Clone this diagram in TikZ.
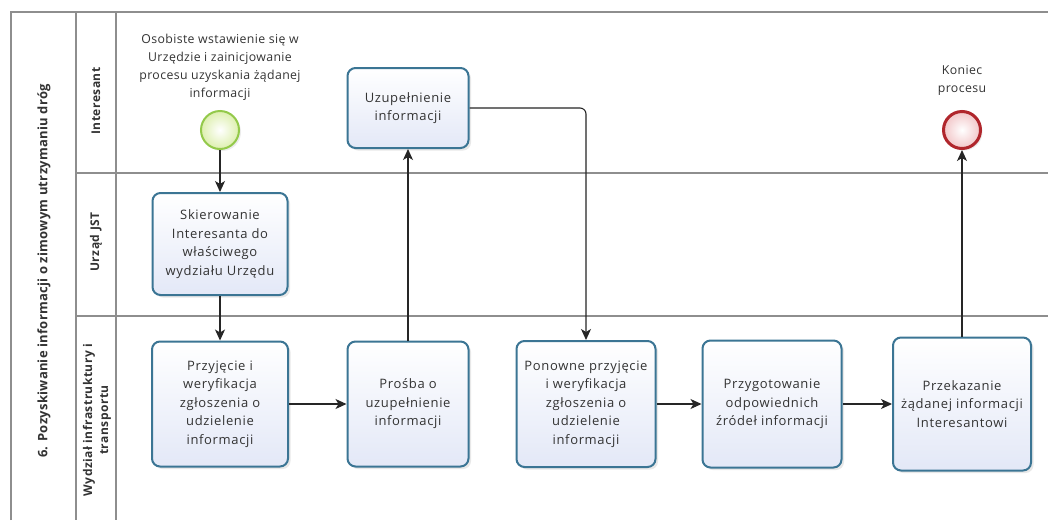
\documentclass[tikz,border=0pt]{standalone}
\usepackage{fontspec}
\setmainfont{Open Sans}
\usetikzlibrary{arrows.meta,shadows}
\definecolor{taskborder}{HTML}{3B7594}
\definecolor{taskfill}{HTML}{E3E8F7}
\definecolor{lanegray}{HTML}{8E8E8E}
\definecolor{startborder}{HTML}{93C94A}
\definecolor{startfill}{HTML}{DDEFAE}
\definecolor{endborder}{HTML}{B0262C}
\definecolor{endfill}{HTML}{F2C6C8}
\definecolor{txt}{HTML}{333333}
\tikzset{
  task/.style={draw=taskborder, line width=2pt, rounded corners=8pt,
    top color=white, bottom color=taskfill, align=center, text=txt,
    font=\fontsize{13}{18.5}\selectfont\addfontfeature{LetterSpace=5}, inner sep=0pt,
    drop shadow={opacity=0.18, shadow xshift=2.5pt, shadow yshift=-2.5pt}},
  startev/.style={circle, draw=startborder, line width=2pt, inner color=white,
    outer color=startfill, minimum size=38pt, inner sep=0pt,
    drop shadow={opacity=0.15, shadow xshift=2pt, shadow yshift=-2pt}},
  endev/.style={circle, draw=endborder, line width=3pt, inner color=white,
    outer color=endfill, minimum size=37pt, inner sep=0pt,
    drop shadow={opacity=0.15, shadow xshift=2pt, shadow yshift=-2pt}},
  evlabel/.style={align=center, text=txt, inner sep=0pt,
    font=\fontsize{12.3}{18}\selectfont\addfontfeature{LetterSpace=3}},
  lane/.style={draw=lanegray, line width=1.6pt},
  lanelabel/.style={rotate=90, align=center, text=txt,
    font=\bfseries\fontsize{12}{16}\selectfont\addfontfeature{LetterSpace=4}},
  flow/.style={draw=black!85, line width=1.1pt, -{Stealth[length=11pt,width=10pt,inset=3pt]}}
}
\begin{document}
\begin{tikzpicture}[x=1pt,y=-1pt]
\useasboundingbox[fill=white] (0,0) rectangle (1048,520);
% pool and lanes
\draw[lane] (11,520) -- (11,12) -- (1048,12);
\draw[lane] (76,12) -- (76,520);
\draw[lane] (116,12) -- (116,520);
\draw[lane] (76,173) -- (1048,173);
\draw[lane] (76,316) -- (1048,316);
\node[lanelabel, font=\bfseries\fontsize{13}{16}\selectfont\addfontfeature{LetterSpace=2}] (pooltitle) at (44,271) {6. Pozyskiwanie informacji o zimowym utrzymaniu dróg};
\node[lanelabel] (l1) at (96,101) {Interesant};
\node[lanelabel] (l2) at (96,242) {Urząd JST};
\node[lanelabel] (l3) at (97,420) {Wydział infrastruktury i\\transportu};
% events
\node[startev] (start) at (220,130) {};
\node[evlabel, anchor=south] (startlbl) at (220,101) {Osobiste wstawienie się w\\Urzędzie i zainicjowanie\\procesu uzyskania żądanej\\informacji};
\node[endev] (end) at (962,130) {};
\node[evlabel, anchor=south] (endlbl) at (962,96) {Koniec\\procesu};
% tasks
\node[task, minimum width=121pt, minimum height=80pt] (uzup) at (408,108) {Uzupełnienie\\informacji};
\node[task, minimum width=135pt, minimum height=102pt] (skier) at (220,244) {Skierowanie\\Interesanta do\\właściwego\\wydziału Urzędu};
\node[task, minimum width=136pt, minimum height=125pt] (przyj) at (220,404) {Przyjęcie i\\weryfikacja\\zgłoszenia o\\udzielenie\\informacji};
\node[task, minimum width=121pt, minimum height=125pt] (prosba) at (408,404) {Prośba o\\uzupełnienie\\informacji};
\node[task, minimum width=139pt, minimum height=126pt] (ponow) at (586,404) {Ponowne przyjęcie\\i weryfikacja\\zgłoszenia o\\udzielenie\\informacji};
\node[task, minimum width=139pt, minimum height=127pt] (przyg) at (772,404) {Przygotowanie\\odpowiednich\\źródeł informacji};
\node[task, minimum width=138pt, minimum height=133pt] (przek) at (962,404) {Przekazanie\\żądanej informacji\\Interesantowi};
% flows
\draw[flow] (start) -- (skier);
\draw[flow] (skier) -- (przyj);
\draw[flow] (przyj) -- (prosba);
\draw[flow] (prosba) -- (uzup);
\draw[flow, rounded corners=6pt] (uzup.east) -| (ponow.north);
\draw[flow] (ponow) -- (przyg);
\draw[flow] (przyg) -- (przek);
\draw[flow] (przek) -- (end);
\end{tikzpicture}
\end{document}
